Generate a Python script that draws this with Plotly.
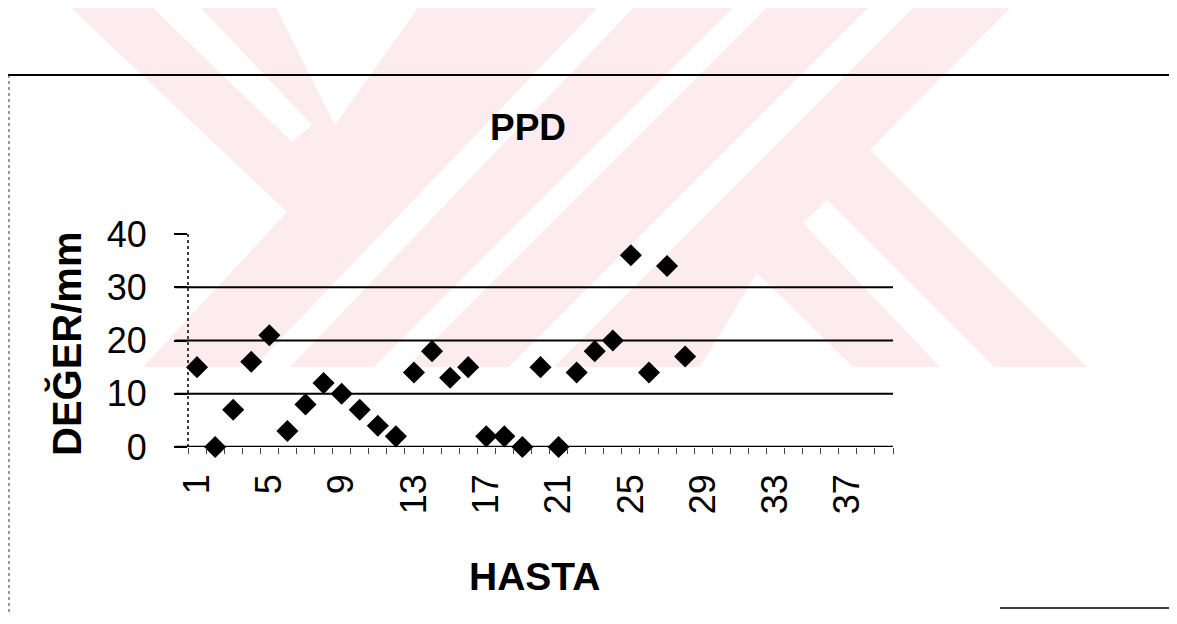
import plotly.graph_objects as go

# ---- data ----
hasta = list(range(1, 29))
ppd = [15, 0, 7, 16, 21, 3, 8, 12, 10, 7, 4, 2, 14, 18, 13, 15, 2, 2, 0, 15,
       0, 14, 18, 20, 36, 14, 34, 17]
x_tick_vals = [1, 5, 9, 13, 17, 21, 25, 29, 33, 37]
x_tick_text = [str(v) for v in x_tick_vals]
y_tick_vals = [0, 10, 20, 30, 40]
grid_vals = [10, 20, 30]
n_categories = 39

title_text = "PPD"
x_title = "HASTA"
y_title = "DEĞER/mm"

# page body has an 8px margin, so the figure origin sits at (8, 8)
OFF = 8
W, H = 1177 - 2 * OFF, 624 - 2 * OFF
L, T, PW, PH = 188, 234, 705, 213   # plot area in reference-image pixels
FONT = "Liberation Sans, Arial, sans-serif"


def px(x):
    return (x - L) / PW


def py(y):
    return (T + PH - y) / PH


def path(points):
    return "M " + " L ".join(f"{px(a):.5f},{py(b):.5f}" for a, b in points) + " Z"


PINK = "#fdecef"
shapes = []
# watermark (scanned background logo): pink envelope then white stripes
envelope = [(68, 5), (1013, 5), (870, 150), (1087, 367), (143, 367), (287, 212)]
whites = [
    [(150, 5), (198, 5), (312, 125), (292, 142)],
    [(275, 5), (420, 5), (335, 125)],
    [(600, 5), (636, 5), (290, 367), (254, 367)],
    [(736, 5), (769, 5), (407, 367), (374, 367)],
    [(871, 5), (916, 5), (554, 367), (509, 367)],
    [(827, 200), (994, 367), (940, 367), (803, 223)],
    [(757, 273), (853, 367), (700, 367)],
]
shapes.append(dict(type="path", xref="paper", yref="paper", path=path(envelope),
                   fillcolor=PINK, line=dict(width=0), layer="below"))
for wpoly in whites:
    shapes.append(dict(type="path", xref="paper", yref="paper", path=path(wpoly),
                       fillcolor="white", line=dict(width=0), layer="below"))

# gridlines
for g in grid_vals:
    shapes.append(dict(type="line", xref="paper", yref="y", x0=-13 / PW, x1=1,
                       y0=g, y1=g, line=dict(color="black", width=2), layer="below"))
shapes.append(dict(type="line", xref="paper", yref="y", x0=-13 / PW, x1=1,
                   y0=0, y1=0, line=dict(color="black", width=2.5), layer="below"))
# y axis line (dotted in scan)
shapes.append(dict(type="line", xref="paper", yref="paper", x0=0, x1=0, y0=0, y1=1,
                   line=dict(color="black", width=1.5, dash="dot"), layer="below"))
# chart border pieces
shapes.append(dict(type="line", xref="paper", yref="paper", x0=px(5), x1=px(1169),
                   y0=py(75), y1=py(75), line=dict(color="black", width=2)))
shapes.append(dict(type="line", xref="paper", yref="paper", x0=px(9), x1=px(9),
                   y0=py(75), y1=py(615), line=dict(color="#333", width=1, dash="dot")))
shapes.append(dict(type="line", xref="paper", yref="paper", x0=px(1000), x1=px(1169),
                   y0=py(608), y1=py(608), line=dict(color="black", width=1.5)))

fig = go.Figure()
fig.add_trace(go.Scatter(
    x=hasta, y=ppd, mode="markers",
    marker=dict(symbol="diamond", size=17, color="black", line=dict(width=0)),
    cliponaxis=False, showlegend=False, hoverinfo="x+y"))

annotations = [
    dict(text=f"<b>{title_text}</b>", x=px(528), y=py(128), xref="paper", yref="paper",
         showarrow=False, font=dict(size=37, color="black", family=FONT),
         xanchor="center", yanchor="middle"),
    dict(text=f"<b>{x_title}</b>", x=px(534), y=py(576), xref="paper", yref="paper",
         showarrow=False, font=dict(size=39, color="black", family=FONT),
         xanchor="center", yanchor="middle"),
    dict(text=f"<b>{y_title}</b>", x=px(66), y=py(344), xref="paper", yref="paper",
         showarrow=False, textangle=-90, font=dict(size=40, color="black", family=FONT),
         xanchor="center", yanchor="middle"),
]

fig.update_layout(
    width=W, height=H,
    margin=dict(l=L - OFF, r=W - (L - OFF) - PW, t=T - OFF, b=H - (T - OFF) - PH, pad=0),
    paper_bgcolor="white", plot_bgcolor="rgba(0,0,0,0)",
    font=dict(family=FONT, color="black"),
    shapes=shapes, annotations=annotations,
    xaxis=dict(range=[0.5, n_categories + 0.5], tickmode="array",
               tickvals=x_tick_vals, ticktext=x_tick_text, tickangle=-90,
               ticks="", showgrid=False, zeroline=False, showline=False,
               tickfont=dict(size=36, color="black"), ticklabelstandoff=19,
               minor=dict(ticks="outside", tick0=0.5, dtick=1, ticklen=6,
                          tickcolor="#444", tickwidth=1, showgrid=False)),
    yaxis=dict(range=[0, 40], tickmode="array", tickvals=y_tick_vals,
               ticks="outside", ticklen=13, tickwidth=1.5, tickcolor="black",
               showgrid=False, zeroline=False, showline=False,
               tickfont=dict(size=36, color="black"), ticklabelstandoff=20),
)

fig.write_html("out.html")
